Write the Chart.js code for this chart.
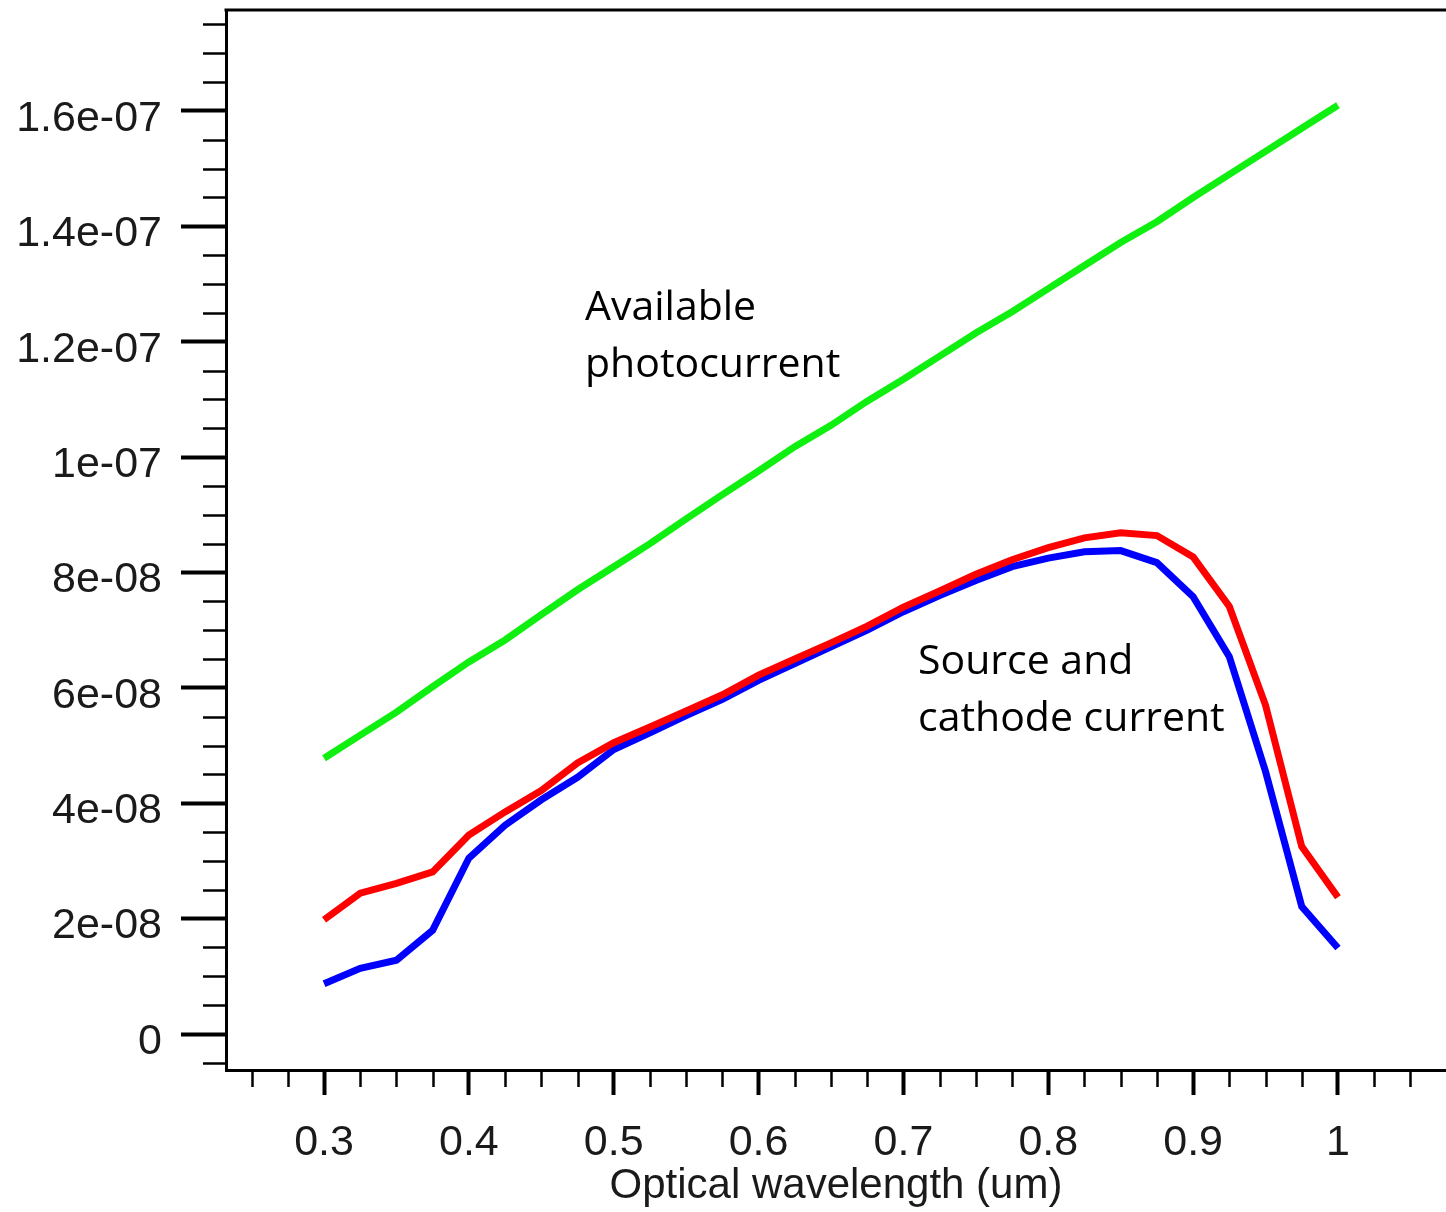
<!DOCTYPE html>
<html>
<head>
<meta charset="utf-8">
<script src="https://cdn.jsdelivr.net/npm/chart.js@4/dist/chart.umd.min.js"></script>
<style>
  html, body { margin: 0; padding: 0; background: #ffffff; overflow: hidden; }
  canvas { display: block; }
</style>
</head>
<body>
<canvas id="c" width="1446" height="1212"></canvas>
<script>
// ---- data ----
const wavelengths = [0.3, 0.325, 0.35, 0.375, 0.4, 0.425, 0.45, 0.475, 0.5, 0.525, 0.55, 0.575, 0.6, 0.625, 0.65, 0.675, 0.7, 0.725, 0.75, 0.775, 0.8, 0.825, 0.85, 0.875, 0.9, 0.925, 0.95, 0.975, 1.0];

const availablePhotocurrent = [4.78e-8, 5.18e-8, 5.58e-8, 6.02e-8, 6.45e-8, 6.83e-8, 7.27e-8, 7.70e-8, 8.10e-8, 8.50e-8, 8.93e-8, 9.35e-8, 9.76e-8, 10.18e-8, 10.55e-8, 10.97e-8, 11.35e-8, 11.75e-8, 12.15e-8, 12.52e-8, 12.92e-8, 13.32e-8, 13.72e-8, 14.08e-8, 14.50e-8, 14.90e-8, 15.30e-8, 15.70e-8, 16.10e-8];

const cathodeCurrent = [1.98e-8, 2.44e-8, 2.61e-8, 2.81e-8, 3.45e-8, 3.85e-8, 4.22e-8, 4.70e-8, 5.05e-8, 5.32e-8, 5.60e-8, 5.88e-8, 6.22e-8, 6.50e-8, 6.78e-8, 7.07e-8, 7.40e-8, 7.68e-8, 7.97e-8, 8.22e-8, 8.43e-8, 8.60e-8, 8.69e-8, 8.64e-8, 8.27e-8, 7.41e-8, 5.70e-8, 3.25e-8, 2.37e-8];

const sourceCurrent = [0.87e-8, 1.14e-8, 1.28e-8, 1.80e-8, 3.05e-8, 3.62e-8, 4.06e-8, 4.45e-8, 4.93e-8, 5.22e-8, 5.52e-8, 5.80e-8, 6.13e-8, 6.42e-8, 6.71e-8, 7.00e-8, 7.32e-8, 7.60e-8, 7.86e-8, 8.10e-8, 8.25e-8, 8.36e-8, 8.38e-8, 8.17e-8, 7.58e-8, 6.54e-8, 4.55e-8, 2.21e-8, 1.49e-8];

const xTickValues = [0.3, 0.4, 0.5, 0.6, 0.7, 0.8, 0.9, 1.0];
const xTickLabels = ['0.3', '0.4', '0.5', '0.6', '0.7', '0.8', '0.9', '1'];
const yTickValues = [0, 2e-8, 4e-8, 6e-8, 8e-8, 1e-7, 1.2e-7, 1.4e-7, 1.6e-7];
const yTickLabels = ['0', '2e-08', '4e-08', '6e-08', '8e-08', '1e-07', '1.2e-07', '1.4e-07', '1.6e-07'];

const xAxisTitle = 'Optical wavelength (um)';
const annotations = [
  { lines: ['Available', 'photocurrent'], x: 585, y: 320 },
  { lines: ['Source and', 'cathode current'], x: 918, y: 674 }
];

// ---- helpers ----
function findIndex(values, v, eps) {
  for (let i = 0; i < values.length; i++) if (Math.abs(values[i] - v) < eps) return i;
  return -1;
}
function toPoints(ys) { return wavelengths.map((x, i) => ({ x: x, y: ys[i] })); }
const isXMajor = v => findIndex(xTickValues, v, 1e-6) >= 0;
const isYMajor = v => findIndex(yTickValues, v, 1e-12) >= 0;

const minorTicks = {
  id: 'minorTicks',
  afterDraw(chart) {
    const ctx = chart.ctx;
    const ca = chart.chartArea;
    ctx.save();
    ctx.strokeStyle = '#000';
    ctx.lineWidth = 2.5;
    const xs = chart.scales.x, ys = chart.scales.y;
    xs.ticks.forEach(t => {
      if (isXMajor(t.value)) return;
      const px = Math.round(xs.getPixelForValue(t.value)) + 0.5;
      ctx.beginPath(); ctx.moveTo(px, ca.bottom); ctx.lineTo(px, ca.bottom + 17); ctx.stroke();
    });
    ys.ticks.forEach(t => {
      if (isYMajor(t.value)) return;
      const py = Math.round(ys.getPixelForValue(t.value)) + 0.5;
      ctx.beginPath(); ctx.moveTo(ca.left - 23, py); ctx.lineTo(ca.left, py); ctx.stroke();
    });
    // top frame line
    ctx.lineWidth = 3;
    ctx.beginPath(); ctx.moveTo(ca.left - 1.5, ca.top); ctx.lineTo(ca.right, ca.top); ctx.stroke();
    ctx.restore();
  }
};

const annotationText = {
  id: 'annotationText',
  afterDatasetsDraw(chart) {
    const ctx = chart.ctx;
    ctx.save();
    ctx.fillStyle = '#000';
    ctx.font = '41px "Open Sans"';
    ctx.textAlign = 'left';
    ctx.textBaseline = 'alphabetic';
    annotations.forEach(a => {
      a.lines.forEach((l, i) => ctx.fillText(l, a.x, a.y + i * 57));
    });
    ctx.restore();
  }
};

function build() {
  new Chart(document.getElementById('c'), {
    type: 'scatter',
    data: {
      datasets: [
        { label: 'Available photocurrent', data: toPoints(availablePhotocurrent), showLine: true, borderColor: '#10f010', backgroundColor: '#10f010', borderWidth: 7, pointRadius: 0, tension: 0 },
        { label: 'Cathode current', data: toPoints(cathodeCurrent), showLine: true, borderColor: '#ff0000', backgroundColor: '#ff0000', borderWidth: 7, pointRadius: 0, tension: 0 },
        { label: 'Source current', data: toPoints(sourceCurrent), showLine: true, borderColor: '#0000ff', backgroundColor: '#0000ff', borderWidth: 7, pointRadius: 0, tension: 0 }
      ]
    },
    options: {
      responsive: false,
      animation: false,
      devicePixelRatio: 1,
      layout: { padding: { top: 10, left: 0, right: 0, bottom: 0 } },
      plugins: { legend: { display: false }, tooltip: { enabled: false }, title: { display: false } },
      scales: {
        x: {
          type: 'linear',
          min: 0.2323, max: 1.0746,
          afterFit(scale) { scale.height = 142; scale.paddingLeft = 0; scale.paddingRight = 0; },
          border: { display: true, color: '#000', width: 3 },
          grid: {
            drawOnChartArea: false, drawTicks: true, tickLength: 25,
            tickColor: ctx => (ctx.tick && isXMajor(ctx.tick.value)) ? '#000' : 'rgba(0,0,0,0)',
            tickWidth: 4
          },
          ticks: {
            stepSize: 0.025, includeBounds: false, autoSkip: false, maxRotation: 0, minRotation: 0,
            padding: 22, color: '#1a1a1a',
            font: { family: '"Liberation Sans", Arial, sans-serif', size: 43 },
            callback: v => { const i = findIndex(xTickValues, v, 1e-6); return i >= 0 ? xTickLabels[i] : ''; }
          },
          title: {
            display: true, text: xAxisTitle, color: '#1a1a1a',
            font: { family: '"Liberation Sans", Arial, sans-serif', size: 42 },
            padding: { top: 0, bottom: 0 }
          }
        },
        y: {
          type: 'linear',
          min: -0.624e-8, max: 17.75e-8,
          afterFit(scale) { scale.width = 226; scale.paddingTop = 0; scale.paddingBottom = 0; },
          border: { display: true, color: '#000', width: 3 },
          grid: {
            drawOnChartArea: false, drawTicks: true, tickLength: 45,
            tickColor: ctx => (ctx.tick && isYMajor(ctx.tick.value)) ? '#000' : 'rgba(0,0,0,0)',
            tickWidth: 4
          },
          ticks: {
            stepSize: 0.5e-8, includeBounds: false, autoSkip: false,
            padding: 19, labelOffset: 8, color: '#1a1a1a',
            font: { family: '"Liberation Sans", Arial, sans-serif', size: 43 },
            callback: v => { const i = findIndex(yTickValues, v, 1e-12); return i >= 0 ? yTickLabels[i] : ''; }
          }
        }
      }
    },
    plugins: [minorTicks, annotationText]
  });
}

if (document.fonts && document.fonts.load) {
  Promise.all([
    document.fonts.load('41px "Open Sans"'),
    document.fonts.load('43px "Liberation Sans"')
  ]).then(build, build);
} else {
  build();
}
</script>
</body>
</html>
